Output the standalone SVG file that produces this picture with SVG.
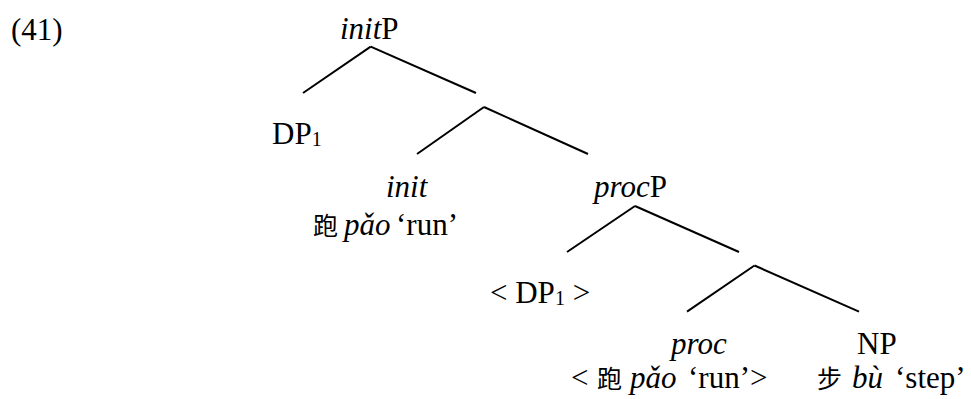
<svg xmlns="http://www.w3.org/2000/svg" width="971" height="399" viewBox="0 0 971 399">
<style>
text{font-family:"Liberation Serif","Times New Roman",Times,serif;font-size:31px;fill:#000}
.i{font-style:italic}
.s{font-size:20px}
.cjk{font-family:"Noto Sans CJK SC","Noto Sans CJK TC",sans-serif;font-size:25px}
line{stroke:#000;stroke-width:2;stroke-linecap:butt}
</style>
<rect width="971" height="399" fill="#fff"/>
<g id="label41"><text x="11" y="40">(41)</text></g>
<g id="connectors">
<line x1="370.7" y1="46.7" x2="303" y2="93"/>
<line x1="370.7" y1="46.7" x2="476" y2="93"/>
<line x1="484" y1="107" x2="417" y2="154"/>
<line x1="484" y1="107" x2="588" y2="154"/>
<line x1="635" y1="206" x2="567" y2="252"/>
<line x1="635" y1="206" x2="739" y2="252"/>
<line x1="754.5" y1="265.5" x2="687" y2="311.7"/>
<line x1="754.5" y1="265.5" x2="859" y2="311.7"/>
</g>
<g id="initP"><text x="340" y="39"><tspan class="i">init</tspan>P</text></g>
<g id="DP1"><text x="272" y="144">DP<tspan class="s" dy="2">1</tspan></text></g>
<g id="init">
<text x="386" y="197" class="i">init</text>
<text y="235"><tspan x="313" class="cjk">跑</tspan><tspan x="344" class="i">pǎo</tspan><tspan x="396">‘run’</tspan></text>
</g>
<g id="procP"><text x="594" y="197"><tspan class="i">proc</tspan>P</text></g>
<g id="DP1trace"><text x="490" y="303">&lt; DP<tspan class="s" dy="2">1</tspan><tspan dy="-2"> &gt;</tspan></text></g>
<g id="proc">
<text x="671" y="354" class="i">proc</text>
<text y="388"><tspan x="571">&lt;</tspan><tspan x="597" class="cjk">跑</tspan><tspan x="630" class="i">pǎo</tspan><tspan x="688">‘run’&gt;</tspan></text>
</g>
<g id="NP">
<text x="857" y="354">NP</text>
<text y="388"><tspan x="817" class="cjk">步</tspan><tspan x="852" class="i">bù</tspan><tspan x="895">‘step’</tspan></text>
</g>
</svg>
